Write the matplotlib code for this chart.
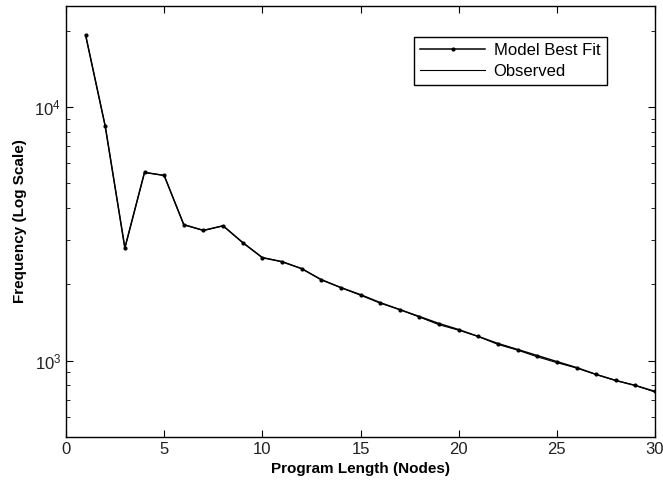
import matplotlib
matplotlib.use('Agg')
from matplotlib import pyplot as plt
import numpy as np

plt.rcParams['font.family'] = ['Liberation Sans', 'DejaVu Sans']

nodes = list(range(1, 31))
model = [19200, 8390, 2780, 5520, 5370, 3435, 3260, 3400, 2920, 2547,
         2455, 2305, 2085, 1940, 1820, 1693, 1589, 1492, 1400, 1325,
         1245, 1168, 1106, 1047, 991, 939, 882, 835, 798, 756]
observed = [19200, 8390, 2780, 5520, 5370, 3435, 3260, 3400, 2920, 2547,
            2455, 2305, 2085, 1940, 1810, 1685, 1589, 1485, 1385, 1318,
            1245, 1158, 1100, 1035, 982, 935, 882, 835, 798, 752]

fig = plt.figure(figsize=(6.63, 4.87), dpi=100)
ax = fig.add_axes([0.0995, 0.1027, 0.8885, 0.885])

ax.semilogy(nodes, model, 'k.-', lw=1.1, ms=4, label='Model Best Fit')
ax.semilogy(nodes, observed, 'k-', lw=0.8, label='Observed')

ax.set_xlim(0, 30)
ax.set_ylim(500, 25000)
ax.set_xticks([0, 5, 10, 15, 20, 25, 30])
ax.tick_params(which='both', direction='in', top=True, right=True, labelsize=12,
               labelcolor='#222222')
ax.tick_params(which='major', length=5)
ax.tick_params(which='minor', length=3)
for s in ax.spines.values():
    s.set_linewidth(1.0)

ax.set_xlabel('Program Length (Nodes)', fontsize=11, fontweight='bold')
ax.set_ylabel('Frequency (Log Scale)', fontsize=11, fontweight='bold', labelpad=5)

leg = ax.legend(loc='upper right', bbox_to_anchor=(0.9185, 0.929), fontsize=12,
                fancybox=False, edgecolor='k', handlelength=3.9, handletextpad=0.5,
                borderpad=0.4, labelspacing=0.32, borderaxespad=0, framealpha=1)
leg.get_frame().set_linewidth(1.0)

fig.savefig('out.png', dpi=100)
